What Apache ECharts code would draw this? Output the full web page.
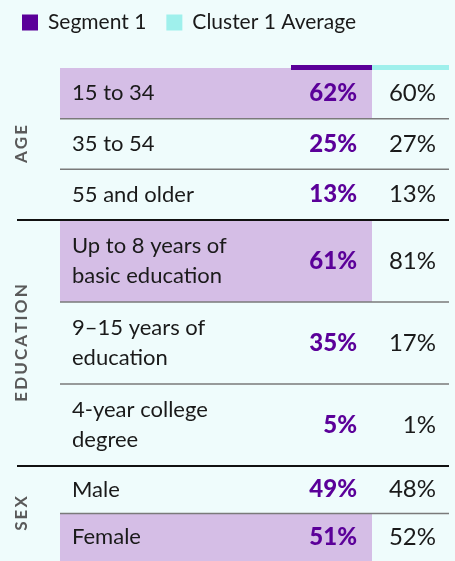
<!DOCTYPE html>
<html>
<head>
<meta charset="utf-8">
<script src="https://cdn.jsdelivr.net/npm/echarts@6/dist/echarts.min.js"></script>
<style>
  html, body { margin: 0; padding: 0; background: #effcfc; }
  #main { width: 455px; height: 561px; }
</style>
</head>
<body>
<div id="main"></div>
<script>
const groups = ["AGE", "EDUCATION", "SEX"];
const rowLabels = [
  ["15 to 34", "35 to 54", "55 and older"],
  ["Up to 8 years of\nbasic education", "9–15 years of\neducation", "4-year college\ndegree"],
  ["Male", "Female"],
];
const segmentValues = [[62, 25, 13], [61, 35, 5], [49, 51]];
const averageValues = [[60, 27, 13], [81, 17, 1], [48, 52]];
const seriesNames = ["Segment 1", "Cluster 1 Average"];

const PURPLE = "#5b0099";
const CYAN = "#9ff0ec";
const LAVENDER = "#d5bee6";
const FONT = "Lato";

// grid layout per group (px)
const gridTops = [68, 220, 466];
const gridHeights = [152, 246, 102];

let myChart = echarts.init(document.getElementById("main"));

function columns(cs) {
  return {
    x0: cs.x,
    colA: cs.x + (cs.width * 231) / 389,
    colB: cs.x + (cs.width * 312) / 389,
    x1: cs.x + cs.width,
  };
}

function segmentRenderer(g) {
  const last = rowLabels[g].length - 1;
  return function (params, api) {
    const row = api.value(0);
    const val = api.value(1);
    const best = api.value(2);
    const c = columns(params.coordSys);
    const mid = api.coord([0, row])[1];
    const h = api.size([0, 1])[1];
    const top = mid - h / 2;
    const children = [];
    if (best) {
      children.push({
        type: "rect",
        shape: { x: c.x0, y: top, width: c.colB - c.x0, height: h },
        style: { fill: LAVENDER },
        z2: 0,
      });
    }
    children.push({
      type: "text",
      style: {
        x: c.colB - 15, y: mid, text: val + "%",
        align: "right", verticalAlign: "middle",
        fill: PURPLE, font: "900 24px " + FONT,
      },
      z2: 5,
    });
    if (row < last) {
      children.push({
        type: "line",
        shape: { x1: c.x0, y1: top + h, x2: c.x1, y2: top + h },
        style: { stroke: "#7a7a7a", lineWidth: 1.5 },
        z2: 10,
      });
    } else if (g < groups.length - 1) {
      children.push({
        type: "line",
        shape: { x1: c.x0 - 43, y1: top + h, x2: c.x1, y2: top + h },
        style: { stroke: "#111", lineWidth: 2 },
        z2: 10,
      });
    }
    if (g === 0 && row === 0) {
      children.push({
        type: "rect",
        shape: { x: c.colA, y: top - 3, width: c.colB - c.colA, height: 5 },
        style: { fill: PURPLE },
        z2: 12,
      });
      children.push({
        type: "rect",
        shape: { x: c.colB, y: top - 3, width: c.x1 - c.colB, height: 5 },
        style: { fill: CYAN },
        z2: 12,
      });
    }
    return { type: "group", children: children };
  };
}

function averageRenderer(params, api) {
  const row = api.value(0);
  const val = api.value(1);
  const c = columns(params.coordSys);
  const mid = api.coord([0, row])[1];
  return {
    type: "text",
    style: {
      x: c.x1 - 13, y: mid, text: val + "%",
      align: "right", verticalAlign: "middle",
      fill: "#1a1a1a", font: "24px " + FONT,
    },
    z2: 5,
  };
}

const grids = [], xAxes = [], yAxes = [], series = [];
groups.forEach((name, g) => {
  grids.push({ left: 60, right: 6, top: gridTops[g], height: gridHeights[g] });
  xAxes.push({ type: "value", gridIndex: g, min: 0, max: 1, show: false });
  yAxes.push({
    type: "category",
    gridIndex: g,
    inverse: true,
    data: rowLabels[g],
    z: 5,
    axisLine: { show: false },
    axisTick: { show: false },
    splitLine: { show: false },
    axisLabel: {
      inside: true, margin: 12, fontSize: 22, lineHeight: 30,
      color: "#1a1a1a", fontFamily: FONT,
    },
    name: name.split("").join("\u2009"),
    nameLocation: "middle",
    nameRotate: 90,
    nameGap: 30,
    nameTextStyle: { fontFamily: FONT, fontWeight: "bold", fontSize: 17, color: "#5a5a5a" },
  });
  const seg = segmentValues[g];
  const maxVal = Math.max(...seg);
  series.push({
    name: seriesNames[0],
    type: "custom",
    xAxisIndex: g,
    yAxisIndex: g,
    itemStyle: { color: PURPLE },
    encode: { y: 0 },
    renderItem: segmentRenderer(g),
    data: seg.map((v, i) => [i, v, v === maxVal ? 1 : 0]),
  });
  series.push({
    name: seriesNames[1],
    type: "custom",
    xAxisIndex: g,
    yAxisIndex: g,
    itemStyle: { color: CYAN },
    encode: { y: 0 },
    renderItem: averageRenderer,
    data: averageValues[g].map((v, i) => [i, v]),
  });
});

let option = {
  backgroundColor: "#effcfc",
  animation: false,
  legend: {
    left: 17,
    top: 7,
    itemWidth: 16,
    itemHeight: 16,
    itemGap: 20,
    icon: "rect",
    selectedMode: false,
    data: seriesNames,
    textStyle: { fontFamily: FONT, fontSize: 21, color: "#1a1a1a", padding: [0, 0, 0, 5] },
  },
  grid: grids,
  xAxis: xAxes,
  yAxis: yAxes,
  series: series,
};
myChart.setOption(option);
</script>
</body>
</html>
